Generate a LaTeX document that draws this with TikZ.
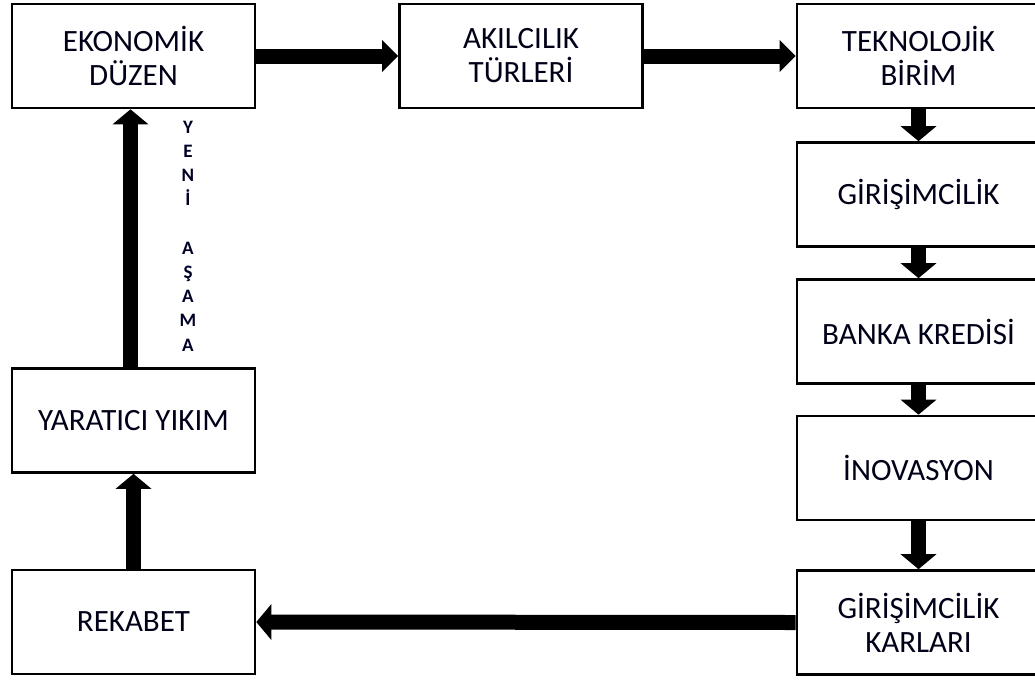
\documentclass[tikz,border=0pt]{standalone}
\usepackage{fontspec}
\setmainfont{Carlito}
\usetikzlibrary{arrows.meta}
\begin{document}
\begin{tikzpicture}[x=1pt,y=-1pt,
  box/.style={draw=black,line width=2.6pt,fill=white,minimum width=243pt,minimum height=104pt,
    inner sep=0pt,align=center,font=\fontsize{31}{34}\selectfont,text=black!90!blue},
  bigarrow/.style={line width=15pt,-{Triangle[width=35pt,length=15pt]}},
  widearrow/.style={line width=15pt,-{Triangle[width=31pt,length=16pt]}},
  vtext/.style={align=center,font=\bfseries\fontsize{19}{24.2}\selectfont,text=black!85!blue,inner sep=0pt}]
\useasboundingbox (0,0) rectangle (1035,680);
\begin{scope}
\clip (0,0) rectangle (1035,680);
% top row
\node[box] (eko) at (133.5,56) {EKONOMİK\\DÜZEN};
\node[box] (aki) at (521,56) {AKILCILIK\\TÜRLERİ};
\node[box] (tek) at (918.5,56) {TEKNOLOJİK\\BİRİM};
% right column
\node[box] (gir) at (918.5,194.5) {GİRİŞİMCİLİK};
\node[box] (ban) at (918.5,331.5) {BANKA KREDİSİ};
\node[box] (ino) at (918.5,468) {İNOVASYON};
\node[box] (kar) at (918.5,622.5) {GİRİŞİMCİLİK\\KARLARI};
% left column
\node[box] (rek) at (133.5,622) {REKABET};
\node[box] (yar) at (133.5,420.5) {YARATICI YIKIM};
\end{scope}
% vertical label
\node[vtext] (yeni) at (188,236) {Y\\E\\N\\İ\\\strut\\A\\Ş\\A\\M\\A};
% connectors
\draw[widearrow] (eko.east) -- (aki.west);
\draw[widearrow] (aki.east) -- (tek.west);
\draw[bigarrow] (tek.south) -- (gir.north);
\draw[bigarrow] (gir.south) -- (ban.north);
\draw[bigarrow] (ban.south) -- (ino.north);
\draw[bigarrow] (ino.south) -- (kar.north);
\draw[bigarrow] (kar.west) -- (rek.east);
\draw[bigarrow] (rek.north) -- (yar.north |- yar.south);
\draw[bigarrow] ([xshift=-3pt]yar.north) -- ([xshift=-3pt]eko.south);
\end{tikzpicture}
\end{document}
